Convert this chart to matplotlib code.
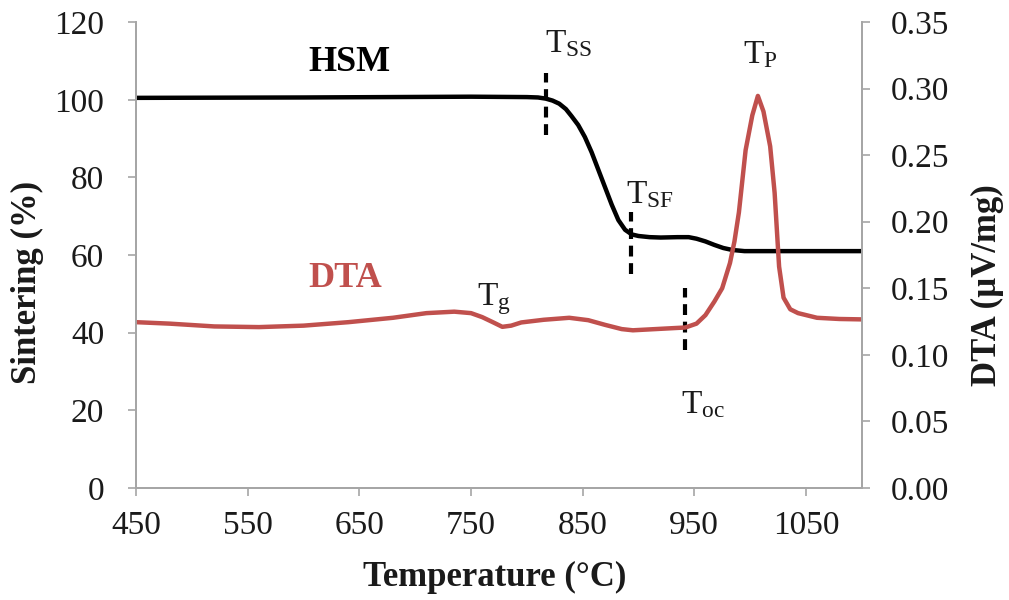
import matplotlib
matplotlib.use("Agg")
import matplotlib.pyplot as plt

plt.rcParams['font.family'] = ['Liberation Serif', 'DejaVu Serif']
plt.rcParams['mathtext.fontset'] = 'custom'
plt.rcParams['mathtext.rm'] = 'Liberation Serif'
plt.rcParams['mathtext.it'] = 'Liberation Serif:italic'

# Hot-stage microscopy sintering curve (%)
hsm_temp = [450, 600, 750, 800, 810, 817, 823, 829, 835, 840, 846, 852, 858, 864, 870,
            876, 882, 888, 894, 900, 910, 920, 935, 945, 952, 960, 968, 976, 984, 995,
            1020, 1100]
hsm_sint = [100.5, 100.6, 100.8, 100.7, 100.6, 100.3, 99.8, 99.0, 97.6, 95.8, 93.5, 90.4,
            86.5, 82.0, 77.5, 73.0, 69.0, 66.5, 65.3, 64.9, 64.6, 64.5, 64.6, 64.6, 64.2,
            63.5, 62.6, 61.8, 61.3, 61.0, 61.0, 61.0]

# Differential thermal analysis signal (µV/mg)
dta_temp = [450, 480, 520, 560, 600, 640, 680, 710, 735, 750, 760, 770, 778, 786, 795,
            815, 838, 855, 870, 885, 895, 915, 942, 952, 960, 968, 975, 982, 986, 990,
            996, 1002, 1007, 1012, 1018, 1022, 1026, 1030, 1036, 1043, 1060, 1080, 1100]
dta_sig = [0.1245, 0.1234, 0.1213, 0.1208, 0.1219, 0.1245, 0.1278, 0.1313, 0.1324, 0.1313,
           0.1283, 0.1243, 0.1210, 0.1219, 0.1243, 0.1263, 0.1278, 0.1260, 0.1225, 0.1193,
           0.1184, 0.1193, 0.1205, 0.1234, 0.1298, 0.1400, 0.1500, 0.1690, 0.1852, 0.2071,
           0.2538, 0.2800, 0.2946, 0.2829, 0.2567, 0.2217, 0.1663, 0.1429, 0.1342, 0.1313,
           0.1278, 0.1269, 0.1266]

# Characteristic temperatures: position and vertical extent of the dashed markers
marker_temps = [817, 893, 942]
marker_low = [91, 55, 35.5]
marker_high = [107, 71, 51.5]

x_ticks = [450, 550, 650, 750, 850, 950, 1050]
y_ticks = [0, 20, 40, 60, 80, 100, 120]
y2_ticks = [0.00, 0.05, 0.10, 0.15, 0.20, 0.25, 0.30, 0.35]

red = '#c0504d'
grey = '#a6a6a6'
txt = '#1a1a1a'

fig = plt.figure(figsize=(10.09, 6.0), dpi=100)
ax = fig.add_axes([0.135, 0.187, 0.719, 0.776])
ax2 = ax.twinx()

ax.plot(hsm_temp, hsm_sint, color='black', lw=3.2, solid_capstyle='butt',
        solid_joinstyle='round')
ax2.plot(dta_temp, dta_sig, color=red, lw=3.2, solid_capstyle='butt',
         solid_joinstyle='round')

for t, lo, hi in zip(marker_temps, marker_low, marker_high):
    ax.plot([t, t], [lo, hi], color='black', lw=3, linestyle=(0, (2.6, 1.6)))

ax.set_xlim(450, 1100)
ax.set_ylim(0, 120)
ax2.set_ylim(0, 0.35)
ax.set_xticks(x_ticks)
ax.set_yticks(y_ticks)
ax2.set_yticks(y2_ticks)
ax2.set_yticklabels([f"{v:.2f}" for v in y2_ticks])

for a in (ax, ax2):
    a.spines['top'].set_visible(False)
    for s in ('left', 'right', 'bottom'):
        a.spines[s].set_color(grey)
        a.spines[s].set_linewidth(1.3)
    a.tick_params(colors=grey, labelcolor=txt, labelsize=24, length=6, width=1.2)
ax.tick_params(axis='x', pad=10)
ax.tick_params(axis='y', pad=17)
ax2.tick_params(axis='y', pad=15)

fig.text(0.49, 0.037, 'Temperature (°C)', fontsize=25, fontweight='bold',
         color=txt, ha='center', va='center')
fig.text(0.027, 0.53, 'Sintering (%)', fontsize=25, fontweight='bold',
         color=txt, ha='center', va='center', rotation=90)
fig.text(0.979, 0.525, 'DTA (µV/mg)', fontsize=25, fontweight='bold',
         color=txt, ha='center', va='center', rotation=90)

ax.text(641, 109.7, 'HSM', fontsize=26, fontweight='bold', color='black',
        ha='center', va='center')
ax.text(637, 54, 'DTA', fontsize=26, fontweight='bold', color=red,
        ha='center', va='center')

fs = 24
ax.text(816, 112.3, r'T$_{\mathrm{SS}}$', fontsize=fs, color=txt, ha='left', va='baseline')
ax.text(994, 109.5, r'T$_{\mathrm{P}}$', fontsize=fs, color=txt, ha='left', va='baseline')
ax.text(889, 73.4, r'T$_{\mathrm{SF}}$', fontsize=fs, color=txt, ha='left', va='baseline')
ax.text(755, 47.1, r'T$_{\mathrm{g}}$', fontsize=fs, color=txt, ha='left', va='baseline')
ax.text(938, 19.3, r'T$_{\mathrm{oc}}$', fontsize=fs, color=txt, ha='left', va='baseline')

fig.savefig('out.png', dpi=100)
